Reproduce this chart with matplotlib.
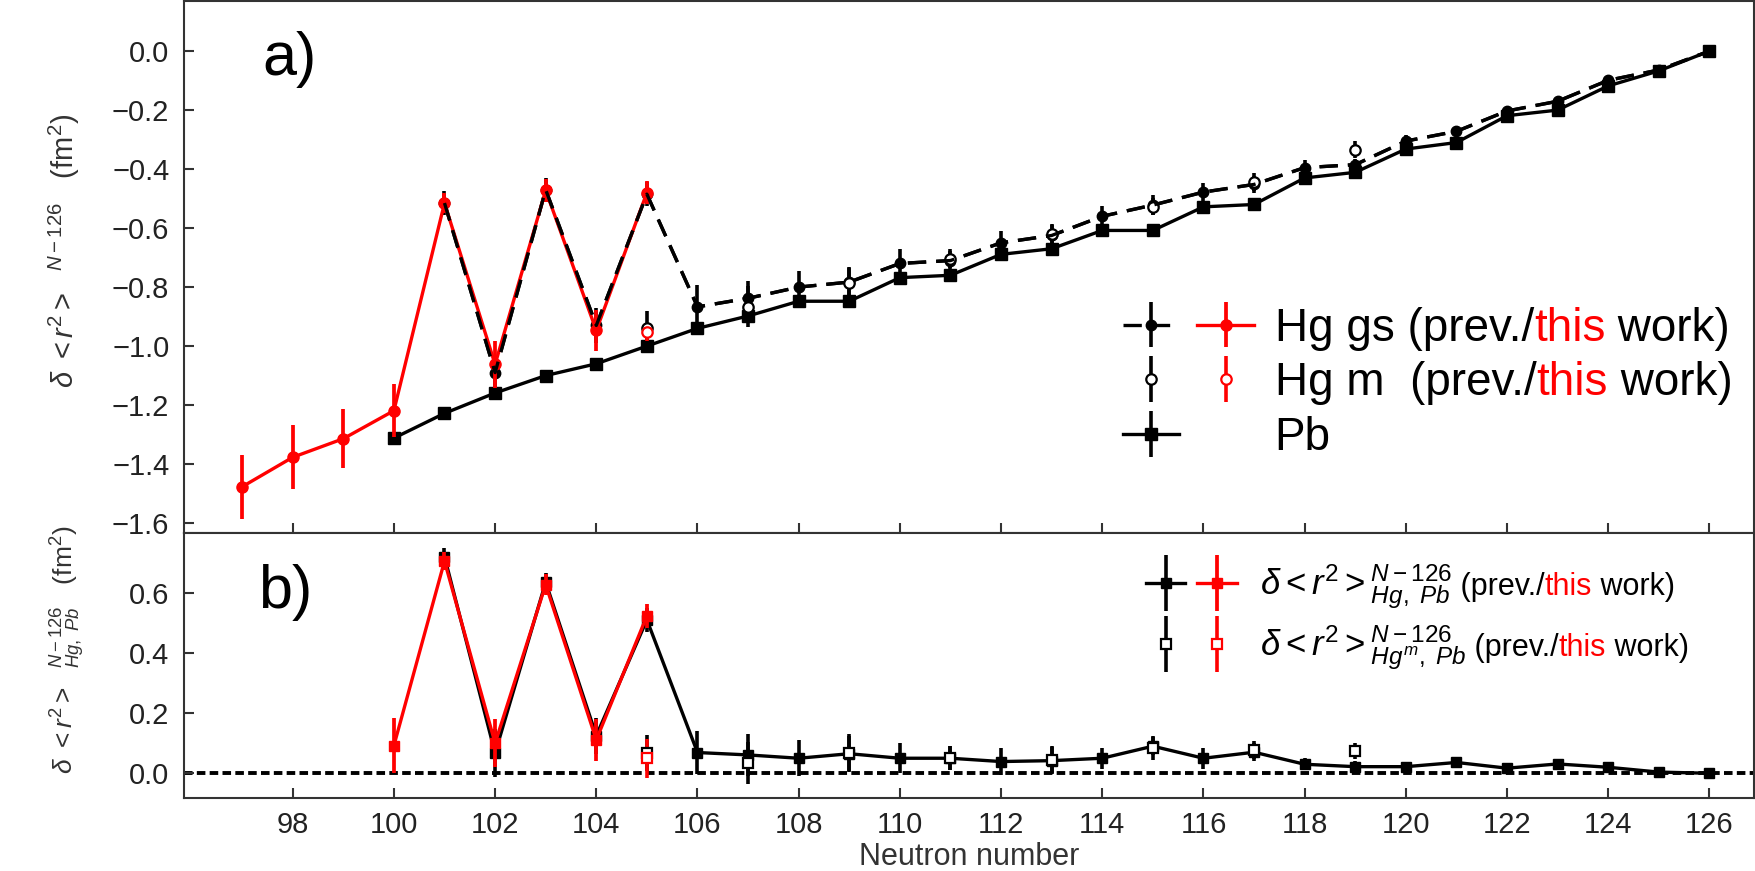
"""Hg / Pb charge radii differences vs neutron number (two stacked panels)."""

import matplotlib
matplotlib.use("Agg")
import matplotlib.pyplot as plt
from matplotlib.container import ErrorbarContainer
from matplotlib.legend_handler import HandlerErrorbar, HandlerTuple
from matplotlib.lines import Line2D

plt.rcParams["font.family"] = ["Liberation Sans", "DejaVu Sans"]
plt.rcParams["mathtext.fontset"] = "custom"
plt.rcParams["mathtext.rm"] = "Liberation Sans"
plt.rcParams["mathtext.it"] = "Liberation Sans:italic"
plt.rcParams["mathtext.bf"] = "Liberation Sans:bold"

# ---- panel a) delta<r^2>^{N-126} -------------------------------------------
n_gs_new = [97, 98, 99, 100, 101, 102, 103, 104, 105]
gs_new = [-1.477, -1.377, -1.314, -1.219, -0.515, -1.062, -0.472, -0.947, -0.48]
gs_new_err = [0.109, 0.109, 0.099, 0.09, 0.035, 0.08, 0.04, 0.07, 0.04]

n_gs_prev = list(range(101, 127))
gs_prev = [-0.515, -1.09, -0.47, -0.93, -0.485, -0.867, -0.838, -0.80, -0.783,
           -0.72, -0.71, -0.65, -0.625, -0.56, -0.522, -0.478, -0.452, -0.395,
           -0.385, -0.305, -0.272, -0.203, -0.17, -0.099, -0.064, 0.0]
gs_prev_err = [0.04, 0.05, 0.04, 0.06, 0.04, 0.075, 0.06, 0.055, 0.05, 0.05,
               0.04, 0.04, 0.035, 0.035, 0.035, 0.03, 0.03, 0.025, 0.02, 0.02,
               0.015, 0.012, 0.01, 0.01, 0.008, 0.0]

n_m_prev = [105, 107, 109, 111, 113, 115, 117, 119]
m_prev = [-0.94, -0.867, -0.785, -0.706, -0.62, -0.527, -0.444, -0.334]
m_prev_err = [0.06, 0.07, 0.05, 0.03, 0.035, 0.03, 0.03, 0.03]

n_m_new = [105]
m_new = [-0.952]
m_new_err = [0.03]

n_pb = list(range(100, 127))
pb = [-1.312, -1.228, -1.159, -1.10, -1.06, -1.0, -0.94, -0.898, -0.848,
      -0.848, -0.768, -0.76, -0.689, -0.67, -0.608, -0.608, -0.528, -0.52,
      -0.43, -0.411, -0.332, -0.31, -0.219, -0.2, -0.118, -0.067, 0.0]
pb_err = [0.008] * len(n_pb)

# ---- panel b) delta<r^2>^{N-126}_{Hg,Pb} ------------------------------------
n_d_new = [100, 101, 102, 103, 104, 105]
d_new = [0.092, 0.705, 0.10, 0.627, 0.111, 0.523]
d_new_err = [0.092, 0.03, 0.08, 0.035, 0.07, 0.04]

n_d_prev = list(range(101, 127))
d_prev = [0.72, 0.067, 0.635, 0.125, 0.51, 0.069, 0.061, 0.05, 0.065, 0.05,
          0.05, 0.039, 0.042, 0.05, 0.09, 0.05, 0.07, 0.03, 0.022, 0.022,
          0.036, 0.017, 0.031, 0.02, 0.004, 0.0]
d_prev_err = [0.03, 0.08, 0.03, 0.06, 0.04, 0.07, 0.07, 0.06, 0.06, 0.05,
              0.04, 0.045, 0.045, 0.035, 0.03, 0.035, 0.03, 0.02, 0.02, 0.015,
              0.01, 0.01, 0.01, 0.01, 0.005, 0.0]

n_dm_prev = [105, 107, 109, 111, 113, 115, 117, 119]
dm_prev = [0.067, 0.033, 0.069, 0.05, 0.045, 0.083, 0.078, 0.074]
dm_prev_err = [0.06, 0.07, 0.06, 0.04, 0.045, 0.04, 0.03, 0.025]

n_dm_new = [105]
dm_new = [0.05]
dm_new_err = [0.065]

x_ticks = [98, 100, 102, 104, 106, 108, 110, 112, 114, 116, 118, 120, 122, 124, 126]
y1_ticks = [-1.6, -1.4, -1.2, -1.0, -0.8, -0.6, -0.4, -0.2, 0.0]
y2_ticks = [0.0, 0.2, 0.4, 0.6]

GREY = "#333333"
RED = "#ff0000"
LW = 2.4
ELW = 2.6
DASH = [5.5, 3]


def append_pieces(fig, legend, rows, pieces):
    """Continue legend labels with extra (text, colour, size) pieces on the same baseline."""
    fig.canvas.draw()
    renderer = fig.canvas.get_renderer()
    inv = fig.transFigure.inverted()
    texts = legend.get_texts()
    for i in rows:
        txt = texts[i]
        x = txt.get_window_extent(renderer).x1
        base_y = txt.get_transform().transform(txt.get_position())[1]
        for s, color, size in pieces:
            xf, yf = inv.transform((x, base_y))
            t = fig.text(xf, yf, s, color=color, fontsize=size, va="baseline", ha="left")
            x = t.get_window_extent(renderer).x1


fig = plt.figure(figsize=(17.55, 8.71), dpi=100)
grid = fig.add_gridspec(2, 1, height_ratios=[2, 1], hspace=0,
                        left=0.1048, right=0.9994, top=0.9989, bottom=0.0835)
ax1 = fig.add_subplot(grid[0])
ax2 = fig.add_subplot(grid[1], sharex=ax1)

# panel a
pb_c = ax1.errorbar(n_pb, pb, yerr=pb_err, fmt="s-", color="k", ms=8, lw=LW,
                    elinewidth=ELW, capsize=0, zorder=2)
gs_prev_c = ax1.errorbar(n_gs_prev, gs_prev, yerr=gs_prev_err, fmt="o--", color="k",
                         ms=7.5, lw=LW, elinewidth=ELW, capsize=0, zorder=2)
gs_prev_c.lines[0].set_dashes(DASH)
gs_new_c = ax1.errorbar(n_gs_new, gs_new, yerr=gs_new_err, fmt="o-", color=RED,
                        ms=8, lw=LW, elinewidth=2.7, capsize=0, zorder=3)
m_prev_c = ax1.errorbar(n_m_prev, m_prev, yerr=m_prev_err, fmt="o", color="k",
                        mfc="white", mec="k", mew=1.6, ms=7.5, elinewidth=ELW,
                        capsize=0, zorder=4)
m_new_c = ax1.errorbar(n_m_new, m_new, yerr=m_new_err, fmt="o", color=RED,
                       mfc="white", mec=RED, mew=1.6, ms=7.5, elinewidth=ELW,
                       capsize=0, zorder=4)
ax1.plot(n_gs_prev, gs_prev, color="k", lw=LW, dashes=DASH, zorder=5)

# panel b
ax2.axhline(0, color="k", lw=2.8, dashes=[2.2, 1.1], zorder=1)
d_prev_c = ax2.errorbar(n_d_prev, d_prev, yerr=d_prev_err, fmt="s-", color="k",
                        ms=7.5, lw=LW, elinewidth=ELW, capsize=0, zorder=2)
d_new_c = ax2.errorbar(n_d_new, d_new, yerr=d_new_err, fmt="s-", color=RED,
                       ms=7.5, lw=LW, elinewidth=2.7, capsize=0, zorder=3)
dm_prev_c = ax2.errorbar(n_dm_prev, dm_prev, yerr=dm_prev_err, fmt="s", color="k",
                         mfc="white", mec="k", mew=1.6, ms=7, elinewidth=ELW,
                         capsize=0, zorder=4)
dm_new_c = ax2.errorbar(n_dm_new, dm_new, yerr=dm_new_err, fmt="s", color=RED,
                        mfc="white", mec=RED, mew=1.6, ms=7, elinewidth=ELW,
                        capsize=0, zorder=4)

# axes styling
for ax in (ax1, ax2):
    for sp in ax.spines.values():
        sp.set_linewidth(1.5)
        sp.set_color(GREY)
    ax.tick_params(direction="in", length=7, width=1.5, color=GREY,
                   labelcolor="#222222", labelsize=21)
    ax.tick_params(axis="y", pad=10.5)
    ax.tick_params(axis="x", pad=9.5)

ax1.set_xlim(95.85, 126.88)
ax1.set_xticks(x_ticks)
ax1.tick_params(axis="x", labelbottom=False)
ax1.set_ylim(-1.632, 0.17)
ax1.set_yticks(y1_ticks)
ax2.set_ylim(-0.083, 0.80)
ax2.set_yticks(y2_ticks)

ax1.set_ylabel(r"$\delta\ <r^2>$  $^{N-126}$   (fm$^2$)", fontsize=21, color=GREY)
ax1.yaxis.set_label_coords(-0.065, 0.53)
ax2.set_ylabel(r"$\delta\ <r^2>$  $^{N-126}_{Hg,\ Pb}$   (fm$^2$)", fontsize=19, color=GREY)
ax2.yaxis.set_label_coords(-0.062, 0.56)
ax2.set_xlabel("Neutron number", fontsize=22, color=GREY, labelpad=1.5)

ax1.text(0.05, 0.861, "a)", fontsize=44, va="baseline", transform=ax1.transAxes)
ax2.text(0.047, 0.717, "b)", fontsize=44, va="baseline", transform=ax2.transAxes)

# legends
blank = Line2D([], [], linestyle="none")
leg1 = ax1.legend(
    [(gs_prev_c, gs_new_c), (m_prev_c, m_new_c), (pb_c, blank)],
    ["Hg gs (prev./", "Hg m  (prev./", "Pb"],
    handler_map={tuple: HandlerTuple(ndivide=None, pad=0.39),
                 ErrorbarContainer: HandlerErrorbar(yerr_size=0.5)},
    loc="upper left", bbox_to_anchor=(0.598, 0.425), frameon=False, fontsize=33,
    handlelength=2.86, handletextpad=0.45, labelspacing=0.23, borderpad=0,
    borderaxespad=0,
)
leg2 = ax2.legend(
    [(d_prev_c, d_new_c), (dm_prev_c, dm_new_c)],
    [r"$\delta <r^2>^{N-126}_{Hg,\ Pb}$", r"$\delta <r^2>^{N-126}_{Hg^m,\ Pb}$"],
    handler_map={tuple: HandlerTuple(ndivide=None, pad=0.35),
                 ErrorbarContainer: HandlerErrorbar(yerr_size=0.81)},
    loc="upper left", bbox_to_anchor=(0.6127, 0.885), frameon=False, fontsize=25,
    handlelength=2.62, handletextpad=0.66, labelspacing=0.32, borderpad=0,
    borderaxespad=0,
)

append_pieces(fig, leg1, [0, 1], [("this", RED, 33), (" work)", "black", 33)])
append_pieces(fig, leg2, [0, 1], [(" (prev./", "black", 22), ("this", RED, 22),
                                  (" work)", "black", 22)])

fig.savefig("out.png", dpi=100)
